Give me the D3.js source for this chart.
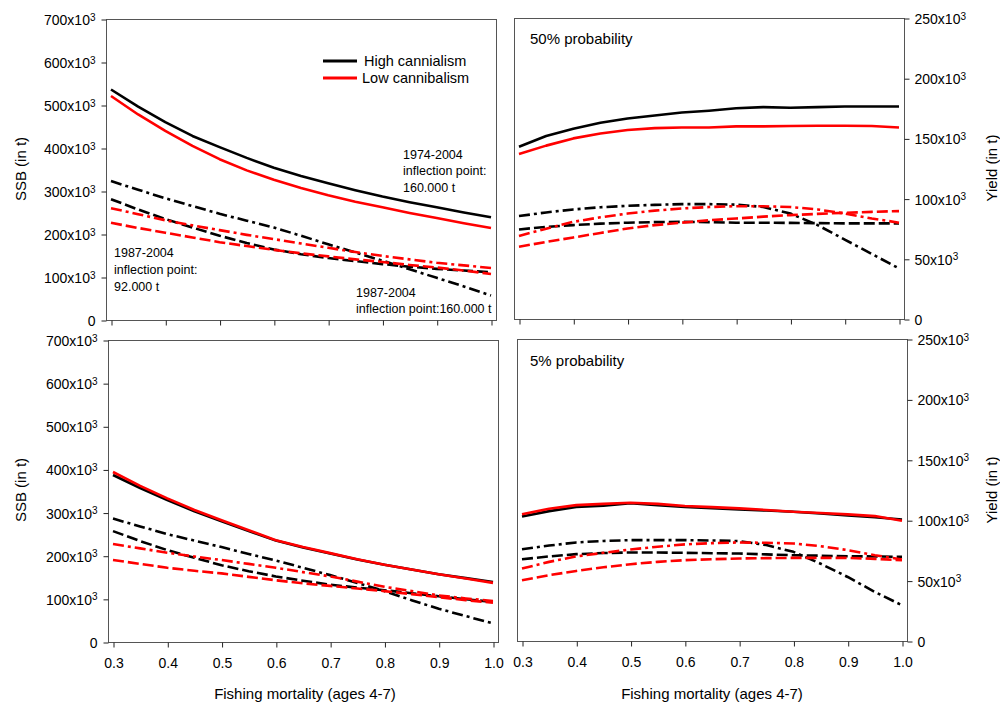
<!DOCTYPE html>
<html>
<head>
<meta charset="utf-8">
<script src="https://cdn.jsdelivr.net/npm/d3@7"></script>
<style>
  html, body { margin: 0; padding: 0; background: #fff; }
  svg { display: block; font-family: "Liberation Sans", Arial, sans-serif; }
</style>
</head>
<body>
<script>
// Fishing mortality (ages 4-7)
const fishingMortality = [0.3, 0.35, 0.4, 0.45, 0.5, 0.55, 0.6, 0.65, 0.7, 0.75, 0.8, 0.85, 0.9, 0.95, 1.0];
const xTicks = [0.3, 0.4, 0.5, 0.6, 0.7, 0.8, 0.9, 1.0];
const ssbTicks = [0, 100, 200, 300, 400, 500, 600, 700];      // x10^3 t
const yieldTicks = [0, 50, 100, 150, 200, 250];               // x10^3 t

// Scenarios: 1974-2004 / 160 000 t (solid), 1987-2004 / 160 000 t (dash-dot), 1987-2004 / 92 000 t (dashed)
// SSB, 50% probability (x10^3 t)
const ssb50High7404  = [536, 496, 460, 428, 402, 377, 354, 335, 318, 302, 287, 274, 262, 250, 239];
const ssb50Low7404   = [521, 478, 440, 405, 374, 348, 326, 307, 290, 275, 262, 249, 237, 225, 214];
const ssb50High160   = [323, 303, 283, 265, 247, 231, 215, 196, 176, 157, 138, 118, 98, 78, 57];
const ssb50Low160    = [260, 246, 232, 220, 209, 198, 188, 178, 168, 158, 149, 141, 133, 127, 121];
const ssb50High92    = [281, 257, 235, 215, 196, 179, 164, 153, 144, 137, 130, 124, 119, 115, 111];
const ssb50Low92     = [226, 214, 203, 192, 181, 172, 163, 155, 148, 141, 135, 128, 122, 115, 107];

// Yield, 50% probability (x10^3 t)
const yield50High7404 = [143, 152, 158, 163, 166.5, 169, 171.5, 173, 175, 176, 175.5, 176, 176.5, 176.5, 176.5];
const yield50Low7404  = [137, 144, 150, 154, 157, 158.5, 159, 159, 160, 160, 160.3, 160.5, 160.5, 160.3, 159];
const yield50High160  = [85.5, 88.5, 91, 92.8, 94, 94.8, 95.4, 95.4, 95, 93, 87.6, 78, 66, 54, 42];
const yield50Low160   = [69, 75, 80.7, 84.5, 87.6, 90, 91.8, 93, 93.7, 93.6, 93, 91, 87.6, 83.5, 80];
const yield50High92   = [74.4, 76.5, 78, 79.2, 80, 80.5, 80.7, 80.5, 80, 80, 79.8, 79.6, 79.4, 79.4, 79.4];
const yield50Low92    = [60, 64, 67.7, 71.5, 75.2, 78, 80, 82, 83.5, 85, 86.3, 87.3, 88.2, 89, 89.6];

// SSB, 5% probability (x10^3 t)
const ssb5High7404 = [387, 357, 329, 303, 280, 257, 235, 219, 205, 191, 179, 168, 157, 148, 139];
const ssb5Low7404  = [394, 362, 333, 306, 282, 259, 236, 220, 206, 192, 179, 168, 157, 147, 137];
const ssb5High160  = [286, 268, 250, 235, 220, 204, 189, 172, 155, 137, 118, 97, 77, 60, 43];
const ssb5Low160   = [227, 217, 207, 198, 190, 181, 172, 162, 152, 140, 128, 118, 108, 101, 95];
const ssb5High92   = [257, 234, 213, 195, 178, 164, 152, 142, 133, 126, 120, 113, 106, 99, 93];
const ssb5Low92    = [190, 181, 172, 165, 159, 151, 143, 136, 130, 124, 118, 111, 104, 97, 91];

// Yield, 5% probability (x10^3 t)
const yield5High7404 = [103, 107.5, 111, 112, 114, 112.5, 111, 110, 109, 108, 107, 105.5, 104, 102.5, 100.6];
const yield5Low7404  = [105, 109.5, 112.5, 113.5, 114.5, 113.5, 111.7, 110.8, 109.8, 108.5, 107, 106, 104.8, 103.4, 99.5];
const yield5High160  = [76, 79, 81.6, 82.8, 83.5, 83.5, 83.5, 83.2, 82.7, 79.4, 73.8, 64, 53, 40.6, 29.6];
const yield5Low160   = [60, 65.5, 70, 73, 75.8, 78, 80, 81, 81.6, 81.3, 80.7, 78.5, 75.2, 71, 67.5];
const yield5High92   = [67.7, 70, 71.9, 72.8, 73.3, 73.2, 73, 72.7, 72.4, 71.7, 71, 70.6, 70.2, 70, 69.7];
const yield5Low92    = [50.3, 54.5, 58, 61, 63.6, 65.5, 66.9, 67.7, 68.3, 68.6, 68.8, 68.8, 68.8, 68, 66.9];

const BLACK = "#000000", RED = "#ff0000", FRAME = "#555555";
const DASH = "11,4", DASHDOT = "11,4,3,4";

const svg = d3.select("body").append("svg").attr("width", 1000).attr("height", 704);

function seriesSet(h92, h160, h7404, l92, l160, l7404) {
  return [
    { values: h92, color: BLACK, dash: DASH },
    { values: h160, color: BLACK, dash: DASHDOT },
    { values: h7404, color: BLACK, dash: null },
    { values: l92, color: RED, dash: DASH },
    { values: l160, color: RED, dash: DASHDOT },
    { values: l7404, color: RED, dash: null }
  ];
}

const panels = [
  { x0: 106, x1: 496, y0: 19, y1: 320, side: "left", ticks: ssbTicks, max: 700, xLabels: false,
    series: seriesSet(ssb50High92, ssb50High160, ssb50High7404, ssb50Low92, ssb50Low160, ssb50Low7404) },
  { x0: 514, x1: 904, y0: 18, y1: 319, side: "right", ticks: yieldTicks, max: 250, xLabels: false,
    series: seriesSet(yield50High92, yield50High160, yield50High7404, yield50Low92, yield50Low160, yield50Low7404) },
  { x0: 108, x1: 498, y0: 340, y1: 642, side: "left", ticks: ssbTicks, max: 700, xLabels: true,
    series: seriesSet(ssb5High92, ssb5High160, ssb5High7404, ssb5Low92, ssb5Low160, ssb5Low7404) },
  { x0: 517, x1: 907, y0: 339, y1: 641, side: "right", ticks: yieldTicks, max: 250, xLabels: true,
    series: seriesSet(yield5High92, yield5High160, yield5High7404, yield5Low92, yield5Low160, yield5Low7404) }
];

function thousandLabel(sel) {
  sel.each(function (d) {
    const t = d3.select(this).text(null);
    if (d === 0) { t.text("0"); return; }
    t.append("tspan").text(d + "x10");
    t.append("tspan").attr("dy", "-0.45em").attr("font-size", "10px").text("3");
  });
}

panels.forEach(p => {
  const g = svg.append("g");
  const x = d3.scaleLinear().domain([0.3, 1.0]).range([p.x0 + 5, p.x1 - 5]);
  const y = d3.scaleLinear().domain([0, p.max]).range([p.y1, p.y0]);

  // frame
  g.append("rect")
    .attr("x", p.x0 + 0.5).attr("y", p.y0 + 0.5)
    .attr("width", p.x1 - p.x0).attr("height", p.y1 - p.y0)
    .attr("fill", "none").attr("stroke", FRAME).attr("stroke-width", 1);

  // x axis
  const xa = g.append("g").attr("transform", `translate(0.5,${p.y1 + 0.5})`)
    .call(d3.axisBottom(x).tickValues(xTicks).tickSize(5).tickPadding(11)
      .tickFormat(p.xLabels ? d3.format(".1f") : () => ""));
  xa.select(".domain").remove();
  xa.selectAll("line").attr("stroke", "#222");
  xa.selectAll("text").attr("font-size", "14px").attr("font-family", "Liberation Sans, Arial, sans-serif").attr("fill", "#000");

  // y axis
  const axis = p.side === "left" ? d3.axisLeft(y) : d3.axisRight(y);
  const ya = g.append("g")
    .attr("transform", `translate(${(p.side === "left" ? p.x0 : p.x1) + 0.5},0.5)`)
    .call(axis.tickValues(p.ticks).tickSize(5).tickPadding(p.side === "left" ? 6 : 5));
  ya.select(".domain").remove();
  ya.selectAll("line").attr("stroke", "#222");
  ya.selectAll("text").attr("font-size", "14px").attr("font-family", "Liberation Sans, Arial, sans-serif")
    .attr("fill", "#000").attr("dy", "0.36em").call(thousandLabel);

  // lines
  const line = d3.line().x((d, i) => x(fishingMortality[i])).y(d => y(d));
  p.series.forEach(s => {
    g.append("path")
      .attr("d", line(s.values))
      .attr("fill", "none")
      .attr("stroke", s.color)
      .attr("stroke-width", 2.6)
      .attr("stroke-linejoin", "round")
      .attr("stroke-dasharray", s.dash);
  });
});

const txt = (x, y, s, size, anchor) => svg.append("text")
  .attr("x", x).attr("y", y).attr("font-size", size + "px")
  .attr("text-anchor", anchor || "start").attr("fill", "#000").text(s);

// axis titles
svg.append("text").attr("transform", "translate(26,169) rotate(-90)")
  .attr("text-anchor", "middle").attr("font-size", "15px").text("SSB (in t)");
svg.append("text").attr("transform", "translate(26,490) rotate(-90)")
  .attr("text-anchor", "middle").attr("font-size", "15px").text("SSB (in t)");
svg.append("text").attr("transform", "translate(997,168) rotate(-90)")
  .attr("text-anchor", "middle").attr("font-size", "15px").text("Yield (in t)");
svg.append("text").attr("transform", "translate(997,490) rotate(-90)")
  .attr("text-anchor", "middle").attr("font-size", "15px").text("Yield (in t)");
txt(305, 699, "Fishing mortality (ages 4-7)", 15, "middle");
txt(712, 699, "Fishing mortality (ages 4-7)", 15, "middle");

// panel titles
txt(530, 44, "50% probability", 15);
txt(530, 366, "5% probability", 15);

// legend
svg.append("line").attr("x1", 323).attr("x2", 357).attr("y1", 61).attr("y2", 61)
  .attr("stroke", BLACK).attr("stroke-width", 3);
svg.append("line").attr("x1", 323).attr("x2", 357).attr("y1", 78).attr("y2", 78)
  .attr("stroke", RED).attr("stroke-width", 3);
txt(364, 66, "High cannialism", 14.5);
txt(362, 83, "Low cannibalism", 14.5);

// scenario notes
txt(403, 159, "1974-2004", 12.5);
txt(403, 175, "inflection point:", 12.5);
txt(403, 192, "160.000 t", 12.5);
txt(114, 257, "1987-2004", 12.5);
txt(114, 274, "inflection point:", 12.5);
txt(114, 291, "92.000 t", 12.5);
txt(356, 297, "1987-2004", 12.5);
txt(356, 313, "inflection point:160.000 t", 12.5);
</script>
</body>
</html>
